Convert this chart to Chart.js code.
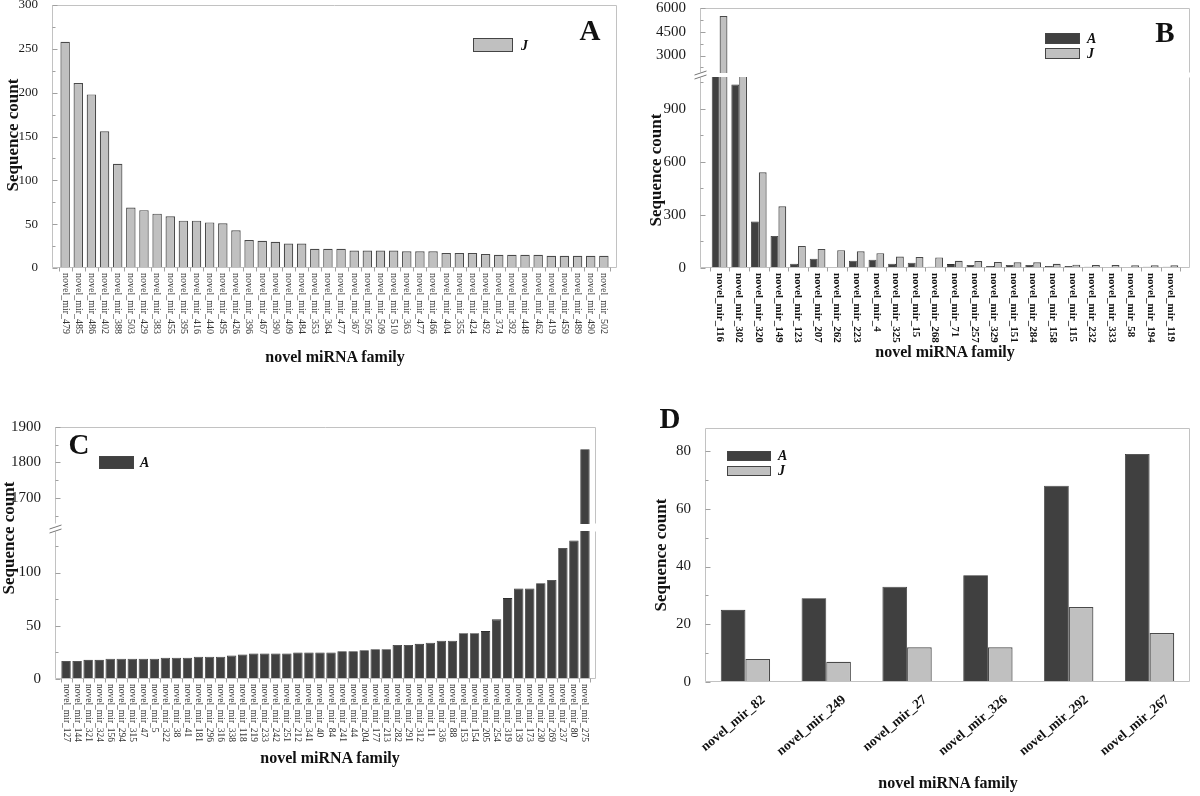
<!DOCTYPE html>
<html>
<head>
<meta charset="utf-8">
<script src="https://cdn.jsdelivr.net/npm/chart.js@4.4.1/dist/chart.umd.min.js"></script>
<style>
  html, body { margin: 0; padding: 0; background: #fff; }
  #page { position: relative; width: 1200px; height: 796px; overflow: hidden;
          font-family: "Liberation Serif", "Times New Roman", serif; color: #111; }
  canvas { position: absolute; }
  .t { position: absolute; white-space: nowrap; font-weight: bold; line-height: 1; }
  .ytitle { font-size: 17px; transform: translate(-50%, -50%) rotate(-90deg); }
  .xtitle { font-size: 16px; transform: translate(-50%, -50%); }
  .letter { font-size: 29px; transform: translate(-50%, -50%); }
  .key { position: absolute; box-sizing: border-box; border: 1px solid #444; }
  .key.dark { background: #404040; }
  .key.light { background: #c0c0c0; }
  .keytxt { font-size: 14px; font-style: italic; transform: translateY(-50%); }
</style>
</head>
<body>
<div id="page">
  <canvas id="chartA" style="left:0;top:0" width="640" height="350"></canvas>
  <canvas id="chartBUp" style="left:640px;top:0" width="560" height="76"></canvas>
  <canvas id="chartBLow" style="left:640px;top:66px" width="560" height="284"></canvas>
  <canvas id="chartCUp" style="left:0;top:400px" width="610" height="126"></canvas>
  <canvas id="chartCLow" style="left:0;top:520px" width="610" height="276"></canvas>
  <canvas id="chartD" style="left:640px;top:400px" width="560" height="396"></canvas>

  <div class="t ytitle" style="left:12px;top:135px">Sequence count</div>
  <div class="t xtitle" style="left:335px;top:357px">novel miRNA family</div>
  <div class="t letter" style="left:590px;top:30px">A</div>
  <div class="key light" style="left:473px;top:38px;width:40px;height:14px"></div>
  <div class="t keytxt" style="left:521px;top:46px">J</div>

  <div class="t ytitle" style="left:655px;top:170px">Sequence count</div>
  <div class="t xtitle" style="left:945px;top:352px">novel miRNA family</div>
  <div class="t letter" style="left:1165px;top:32px">B</div>
  <div class="key dark" style="left:1045px;top:33px;width:35px;height:11px"></div>
  <div class="t keytxt" style="left:1087px;top:39px">A</div>
  <div class="key light" style="left:1045px;top:48px;width:35px;height:11px"></div>
  <div class="t keytxt" style="left:1087px;top:54px">J</div>

  <div class="t ytitle" style="left:8px;top:538px">Sequence count</div>
  <div class="t xtitle" style="left:330px;top:758px">novel miRNA family</div>
  <div class="t letter" style="left:79px;top:444px">C</div>
  <div class="key dark" style="left:99px;top:456px;width:35px;height:13px"></div>
  <div class="t keytxt" style="left:140px;top:463px">A</div>

  <div class="t ytitle" style="left:660px;top:555px">Sequence count</div>
  <div class="t xtitle" style="left:948px;top:783px">novel miRNA family</div>
  <div class="t letter" style="left:670px;top:418px">D</div>
  <div class="key dark" style="left:727px;top:451px;width:44px;height:10px"></div>
  <div class="t keytxt" style="left:778px;top:456px">A</div>
  <div class="key light" style="left:727px;top:466px;width:44px;height:10px"></div>
  <div class="t keytxt" style="left:778px;top:471px">J</div>
</div>

<script>
// ---- data ----
const familiesA = ["novel_mir_479", "novel_mir_485", "novel_mir_486", "novel_mir_402", "novel_mir_388",
  "novel_mir_503", "novel_mir_429", "novel_mir_383", "novel_mir_455", "novel_mir_395", "novel_mir_416",
  "novel_mir_440", "novel_mir_495", "novel_mir_426", "novel_mir_396", "novel_mir_467", "novel_mir_390",
  "novel_mir_409", "novel_mir_484", "novel_mir_353", "novel_mir_364", "novel_mir_477", "novel_mir_367",
  "novel_mir_505", "novel_mir_509", "novel_mir_510", "novel_mir_363", "novel_mir_477", "novel_mir_466",
  "novel_mir_404", "novel_mir_355", "novel_mir_424", "novel_mir_492", "novel_mir_374", "novel_mir_392",
  "novel_mir_448", "novel_mir_462", "novel_mir_419", "novel_mir_459", "novel_mir_489", "novel_mir_490",
  "novel_mir_502"];
const countsA_J = [258, 211, 198, 156, 119, 69, 66, 62, 59, 54, 54, 52, 51, 43, 32, 31, 30, 28, 28, 22,
  22, 22, 20, 20, 20, 20, 19, 19, 19, 17, 17, 17, 16, 15, 15, 15, 15, 14, 14, 14, 14, 14];

const familiesB = ["novel_mir_116", "novel_mir_302", "novel_mir_320", "novel_mir_149", "novel_mir_123",
  "novel_mir_207", "novel_mir_262", "novel_mir_223", "novel_mir_4", "novel_mir_325", "novel_mir_15",
  "novel_mir_268", "novel_mir_71", "novel_mir_257", "novel_mir_329", "novel_mir_151", "novel_mir_284",
  "novel_mir_158", "novel_mir_115", "novel_mir_232", "novel_mir_333", "novel_mir_58", "novel_mir_194",
  "novel_mir_119"];
const countsB_A = [1500, 1037, 263, 181, 24, 52, 6, 41, 47, 24, 30, 7, 22, 17, 11, 17, 17, 11, 11, 7, 6, 6, 7, 7];
const countsB_J = [5490, 1500, 541, 349, 125, 108, 101, 95, 84, 65, 62, 60, 41, 39, 34, 32, 32, 24, 19, 17, 17, 15, 15, 15];

const familiesC = ["novel_mir_127", "novel_mir_144", "novel_mir_321", "novel_mir_324", "novel_mir_156",
  "novel_mir_294", "novel_mir_315", "novel_mir_47", "novel_mir_5", "novel_mir_322", "novel_mir_38",
  "novel_mir_41", "novel_mir_181", "novel_mir_296", "novel_mir_316", "novel_mir_338", "novel_mir_118",
  "novel_mir_219", "novel_mir_233", "novel_mir_242", "novel_mir_251", "novel_mir_212", "novel_mir_341",
  "novel_mir_40", "novel_mir_84", "novel_mir_241", "novel_mir_44", "novel_mir_204", "novel_mir_177",
  "novel_mir_213", "novel_mir_282", "novel_mir_291", "novel_mir_312", "novel_mir_11", "novel_mir_336",
  "novel_mir_88", "novel_mir_153", "novel_mir_154", "novel_mir_205", "novel_mir_254", "novel_mir_319",
  "novel_mir_139", "novel_mir_173", "novel_mir_230", "novel_mir_269", "novel_mir_237", "novel_mir_80",
  "novel_mir_275"];
const countsC_A = [17, 17, 18, 18, 19, 19, 19, 19, 19, 20, 20, 20, 21, 21, 21, 22, 23, 24, 24, 24, 24, 25,
  25, 25, 25, 26, 26, 27, 28, 28, 32, 32, 33, 34, 36, 36, 43, 43, 45, 56, 76, 85, 85, 90, 93, 123, 130, 1837];

const familiesD = ["novel_mir_82", "novel_mir_249", "novel_mir_27", "novel_mir_326", "novel_mir_292", "novel_mir_267"];
const countsD_A = [25, 29, 33, 37, 68, 79];
const countsD_J = [8, 7, 12, 12, 26, 17];

const ticksA = [0, 50, 100, 150, 200, 250, 300];
const ticksBUp = [3000, 4500, 6000];
const ticksBLow = [0, 300, 600, 900];
const ticksCUp = [1700, 1800, 1900];
const ticksCLow = [0, 50, 100];
const ticksD = [0, 20, 40, 60, 80];

// ---- drawing helpers ----
const SERIF = "'Liberation Serif', 'Times New Roman', serif";
const DARK = "#404040";
const LIGHT = "#c0c0c0";

// frame, inward y ticks, top-to-bottom category labels, axis break marks
const panelFrame = {
  id: "panelFrame",
  afterDraw(chart, args, o) {
    const { ctx, chartArea: a } = chart;
    const y = chart.scales.y;
    const x = chart.scales.x;
    const L = Math.round(a.left) + 0.5, R = Math.round(a.right) - 0.5;
    const T = Math.round(a.top) + 0.5, B = Math.round(a.bottom) - 0.5;
    ctx.save();
    ctx.lineWidth = 1;
    ctx.strokeStyle = "#c2c2c2";
    ctx.beginPath();
    if (o.sides.includes("t")) { ctx.moveTo(L, T); ctx.lineTo(R, T); }
    if (o.sides.includes("b")) { ctx.moveTo(L, B); ctx.lineTo(R, B); }
    ctx.moveTo(L, T); ctx.lineTo(L, B);
    ctx.moveTo(R, T); ctx.lineTo(R, B);
    ctx.stroke();

    const major = o.yTicks;
    const step = major[1] - major[0];
    ctx.strokeStyle = "#a0a0a0";
    ctx.beginPath();
    for (const v of major) {
      const p = Math.round(y.getPixelForValue(v)) + 0.5;
      ctx.moveTo(L, p); ctx.lineTo(L + 5, p);
    }
    for (let v = major[0] - step / 2; v <= y.max; v += step) {
      if (v <= y.min) continue;
      const p = Math.round(y.getPixelForValue(v)) + 0.5;
      ctx.moveTo(L, p); ctx.lineTo(L + 3, p);
    }
    ctx.stroke();

    if (o.labels) {
      ctx.beginPath();
      for (let i = 0; i <= o.labels.length; i++) {
        const px = Math.round(x.getPixelForValue(i - 0.5)) + 0.5;
        ctx.moveTo(px, B); ctx.lineTo(px, B + 4);
      }
      ctx.stroke();
      ctx.fillStyle = o.labelColor;
      ctx.font = o.labelFont;
      ctx.textAlign = "left";
      ctx.textBaseline = "middle";
      o.labels.forEach((lab, i) => {
        ctx.save();
        ctx.translate(x.getPixelForValue(i), a.bottom + 5);
        ctx.rotate(Math.PI / 2);
        ctx.fillText(lab, 0, 0);
        ctx.restore();
      });
    }

    if (o.breakMark) {
      ctx.strokeStyle = "#777";
      ctx.beginPath();
      for (const dy of [-4, 0]) {
        ctx.moveTo(L - 6, a.top + dy + 2);
        ctx.lineTo(L + 6, a.top + dy - 2);
      }
      ctx.stroke();
    }
    ctx.restore();
  }
};

function yAxis(min, max, ticks, width, size) {
  return {
    min, max,
    afterBuildTicks: (s) => { s.ticks = ticks.map((v) => ({ value: v })); },
    afterFit: (s) => { s.width = width; s.paddingTop = 0; s.paddingBottom = 0; },
    grid: { display: false },
    border: { display: false },
    ticks: { color: "#1a1a1a", padding: 6, callback: (v) => String(v), font: { family: SERIF, size } }
  };
}

function indexAxis(n) {
  return { type: "linear", min: -1, max: n, offset: false, display: false };
}

function points(values) {
  return values.map((v, i) => ({ x: i, y: v }));
}

function barSet(label, values, color, extra) {
  return Object.assign({
    label,
    data: points(values),
    backgroundColor: color,
    borderColor: color === DARK ? "#2e2e2e" : "#4a4a4a",
    borderWidth: color === DARK ? 0.8 : 1.2,
    borderSkipped: "start",
    clip: 0
  }, extra);
}

function makeChart(id, datasets, scales, padding, frame) {
  return new Chart(document.getElementById(id), {
    type: "bar",
    data: { datasets },
    options: {
      responsive: false,
      animation: false,
      events: [],
      layout: { padding },
      scales,
      plugins: { legend: { display: false }, tooltip: { enabled: false }, panelFrame: frame }
    },
    plugins: [panelFrame]
  });
}

// ---- panel A ----
makeChart("chartA",
  [barSet("J", countsA_J, LIGHT, { categoryPercentage: 0.72, barPercentage: 1 })],
  { x: indexAxis(familiesA.length), y: yAxis(0, 300, ticksA, 52, 13) },
  { top: 5, right: 23, bottom: 82, left: 0 },
  { sides: "tb", yTicks: ticksA, labels: familiesA, labelFont: "10px " + SERIF, labelColor: "#333" });

// ---- panel B (broken axis: two stacked charts) ----
const setsB = (extra) => [
  barSet("A", countsB_A, DARK, extra),
  barSet("J", countsB_J, LIGHT, extra)
];
const groupB = { categoryPercentage: 0.8, barPercentage: 1 };
makeChart("chartBUp", setsB(groupB),
  { x: indexAxis(familiesB.length), y: yAxis(1900, 6000, ticksBUp, 60, 15) },
  { top: 8, right: 10, bottom: 3, left: 0 },
  { sides: "t", yTicks: ticksBUp });
makeChart("chartBLow", setsB(groupB),
  { x: indexAxis(familiesB.length), y: yAxis(0, 1080, ticksBLow, 60, 15) },
  { top: 11, right: 10, bottom: 82, left: 0 },
  { sides: "b", yTicks: ticksBLow, labels: familiesB, labelFont: "bold 11px " + SERIF, labelColor: "#111", breakMark: true });

// ---- panel C (broken axis) ----
const groupC = { categoryPercentage: 0.85, barPercentage: 1 };
makeChart("chartCUp", [barSet("A", countsC_A, DARK, groupC)],
  { x: indexAxis(familiesC.length), y: yAxis(1626, 1900, ticksCUp, 55, 15) },
  { top: 27, right: 14, bottom: 2, left: 0 },
  { sides: "t", yTicks: ticksCUp });
makeChart("chartCLow", [barSet("A", countsC_A, DARK, groupC)],
  { x: indexAxis(familiesC.length), y: yAxis(0, 139, ticksCLow, 55, 15) },
  { top: 11, right: 14, bottom: 117, left: 0 },
  { sides: "b", yTicks: ticksCLow, labels: familiesC, labelFont: "9.5px " + SERIF, labelColor: "#333", breakMark: true });

// ---- panel D ----
new Chart(document.getElementById("chartD"), {
  type: "bar",
  data: {
    labels: familiesD,
    datasets: [
      { label: "A", data: countsD_A, backgroundColor: DARK, borderColor: "#2e2e2e", borderWidth: 0.8,
        categoryPercentage: 0.61, barPercentage: 1 },
      { label: "J", data: countsD_J, backgroundColor: LIGHT, borderColor: "#4a4a4a", borderWidth: 1.2,
        categoryPercentage: 0.61, barPercentage: 1 }
    ]
  },
  options: {
    responsive: false,
    animation: false,
    events: [],
    layout: { padding: { top: 28, right: 10, bottom: 0, left: 0 } },
    scales: {
      x: {
        afterFit: (s) => { s.height = 114; },
        grid: { display: false },
        border: { display: false },
        ticks: { autoSkip: false, minRotation: 40, maxRotation: 40, padding: 2, labelOffset: 18, color: "#111",
                 font: { family: SERIF, size: 13.5, weight: "bold" } }
      },
      y: yAxis(0, 88, ticksD, 65, 15)
    },
    plugins: {
      legend: { display: false },
      tooltip: { enabled: false },
      panelFrame: { sides: "tb", yTicks: ticksD }
    }
  },
  plugins: [panelFrame]
});
</script>
</body>
</html>
